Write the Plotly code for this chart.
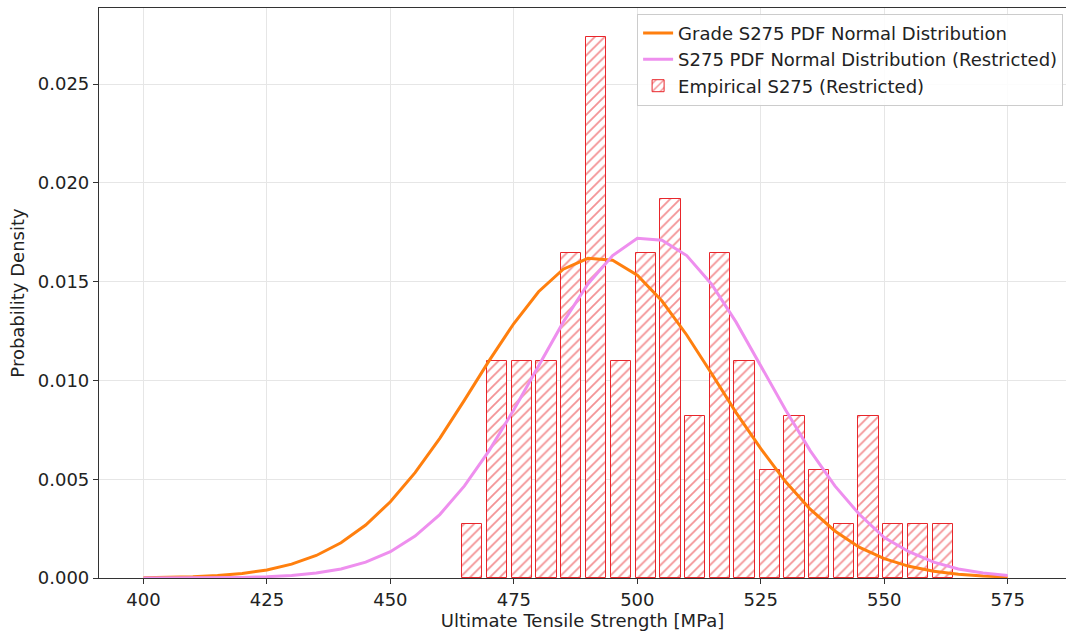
import plotly.graph_objects as go

# Histogram bins (centres) and densities
bin_centers = [466.6, 471.6, 476.6, 481.6, 486.6, 491.6, 496.7, 501.7, 506.7, 511.7,
               516.7, 521.7, 526.8, 531.8, 536.8, 541.8, 546.8, 551.8, 556.9, 561.9]
bin_density = [0.00274, 0.01096, 0.01096, 0.01096, 0.01644, 0.02740, 0.01096, 0.01644, 0.01918, 0.00822,
               0.01644, 0.01096, 0.00548, 0.00822, 0.00548, 0.00274, 0.00822, 0.00274, 0.00274, 0.00274]

# PDF evaluation points
x_pdf = [400, 405, 410, 415, 420, 425, 430, 435, 440, 445, 450, 455, 460, 465, 470, 475, 480, 485,
         490, 495, 500, 505, 510, 515, 520, 525, 530, 535, 540, 545, 550, 555, 560, 565, 570, 575]
grade_pdf = [0.000016, 0.000032, 0.000065, 0.000126, 0.00023, 0.00041, 0.00070, 0.00114, 0.00178,
             0.00268, 0.00386, 0.00533, 0.00707, 0.0090, 0.0110, 0.01288, 0.01449, 0.01563, 0.01618,
             0.01608, 0.01533, 0.01402, 0.0123, 0.01036, 0.00837, 0.00655, 0.00488, 0.00348, 0.00238,
             0.00155, 0.00098, 0.00059, 0.00034, 0.00019, 0.0001, 0.00005]
restricted_pdf = [0.000001, 0.0000025, 0.000006, 0.000014, 0.000031, 0.000065, 0.00013, 0.00025,
                  0.00046, 0.0008, 0.00133, 0.00212, 0.00321, 0.00466, 0.00645, 0.00852, 0.01075,
                  0.01295, 0.01488, 0.01632, 0.0172, 0.0171, 0.01632, 0.01488, 0.01295, 0.01075,
                  0.00852, 0.00645, 0.00466, 0.00321, 0.00205, 0.00133, 0.0008, 0.00046, 0.00025, 0.00013]

x_ticks = [400, 425, 450, 475, 500, 525, 550, 575]
y_ticks = [0.0, 0.005, 0.010, 0.015, 0.020, 0.025]

fig = go.Figure()
fig.add_trace(go.Bar(
    x=bin_centers, y=bin_density, width=4.1,
    name="Empirical S275 (Restricted)",
    marker=dict(color="white", line=dict(color="#e8262b", width=1),
                pattern=dict(shape="/", fgcolor="#e8262b", bgcolor="white", size=7, solidity=0.26)),
    legendrank=3,
))
fig.add_trace(go.Scatter(
    x=x_pdf, y=grade_pdf, mode="lines", name="Grade S275 PDF Normal Distribution",
    line=dict(color="#ff7f0e", width=3), legendrank=1,
))
fig.add_trace(go.Scatter(
    x=x_pdf, y=restricted_pdf, mode="lines", name="S275 PDF Normal Distribution (Restricted)",
    line=dict(color="#ee8fee", width=3), legendrank=2,
))

font_family = "DejaVu Sans"
fig.update_layout(
    width=1066, height=632,
    margin=dict(l=99, r=0, t=8, b=54),
    paper_bgcolor="white", plot_bgcolor="white",
    font=dict(family=font_family, size=18, color="#222222"),
    showlegend=True,
    legend=dict(
        x=0.997, y=0.99, xanchor="right", yanchor="top",
        bgcolor="rgba(255,255,255,0.85)", bordercolor="#cccccc", borderwidth=1,
        font=dict(family=font_family, size=18, color="#222222"),
        traceorder="normal", tracegroupgap=0,
    ),
    bargap=0,
)

fig.update_xaxes(
    range=[391.0, 586.8], tickvals=x_ticks, ticktext=[str(t) for t in x_ticks],
    showgrid=True, gridcolor="#e6e6e6", gridwidth=1,
    showline=True, linecolor="#333333", linewidth=1.2, mirror=True,
    ticks="outside", ticklen=5, tickcolor="#333333",
    zeroline=False,
    title=dict(text="Ultimate Tensile Strength [MPa]", standoff=4, font=dict(size=18)),
    tickfont=dict(size=18),
)
fig.update_yaxes(
    range=[0, 0.02885], tickvals=y_ticks, tickformat=".3f",
    showgrid=True, gridcolor="#e6e6e6", gridwidth=1,
    showline=True, linecolor="#333333", linewidth=1.2, mirror=False,
    ticks="outside", ticklen=5, tickcolor="#333333",
    zeroline=False,
    title=dict(text="Probability Density", standoff=8, font=dict(size=18)),
    tickfont=dict(size=18),
)

fig.write_html("out.html")
